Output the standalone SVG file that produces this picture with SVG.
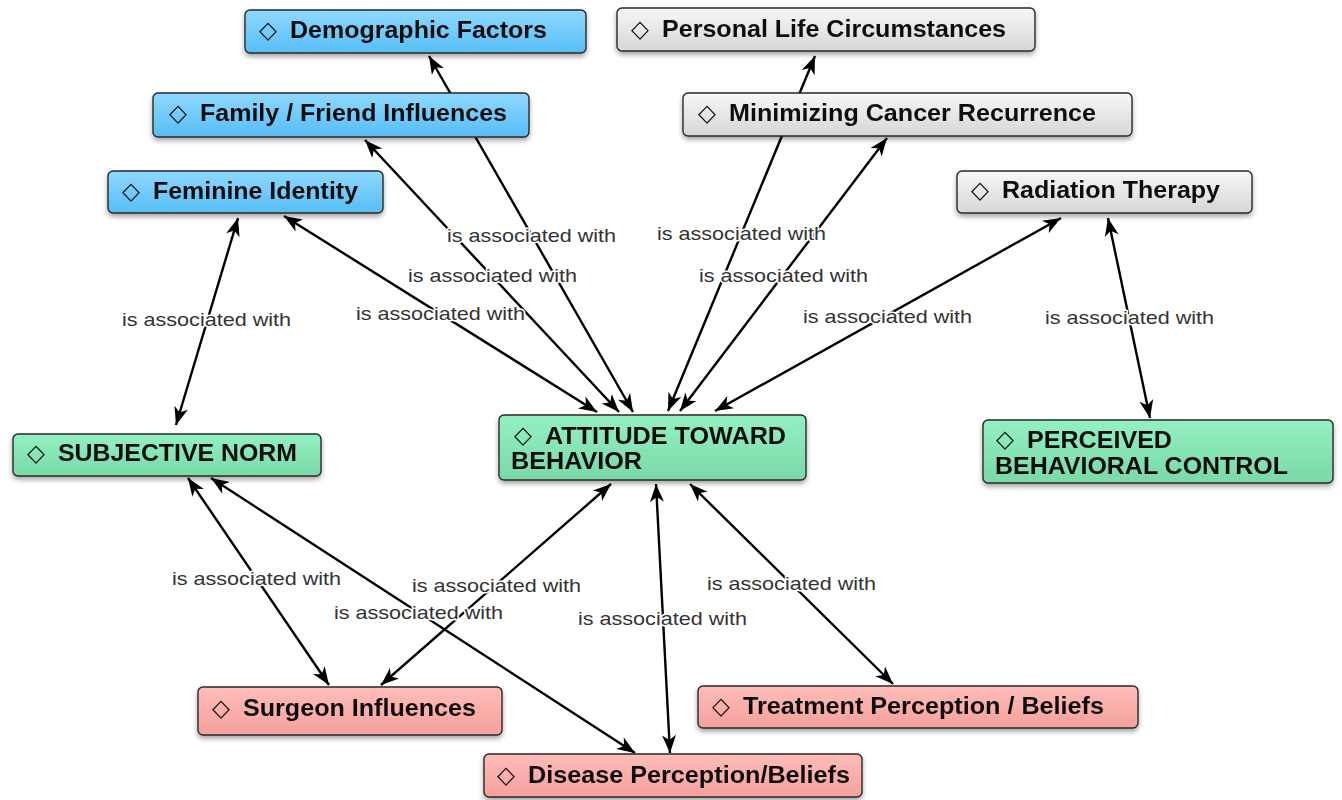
<svg xmlns="http://www.w3.org/2000/svg" width="1342" height="800" viewBox="0 0 1342 800">
<style>
.n{stroke:#2a2a2a;stroke-width:1.4}
.t{font-family:"Liberation Sans",Arial,"DejaVu Sans",sans-serif;font-weight:bold;font-size:23px;fill:#111}
.d{font-family:"DejaVu Sans",sans-serif;font-size:24px;fill:#111}
.e{stroke:#000;stroke-width:2.4;fill:none;marker-start:url(#ah);marker-end:url(#ah)}
.l{font-family:"Liberation Sans",Arial,sans-serif;font-size:19px;fill:#333;stroke:#fff;stroke-width:3;paint-order:stroke;stroke-linejoin:round}
</style>
<defs>
<linearGradient id="gb" x1="0" y1="0" x2="0" y2="1"><stop offset="0" stop-color="#8fd8ff"/><stop offset="1" stop-color="#57bdf5"/></linearGradient>
<linearGradient id="gg" x1="0" y1="0" x2="0" y2="1"><stop offset="0" stop-color="#f7f7f7"/><stop offset="1" stop-color="#d6d6d6"/></linearGradient>
<linearGradient id="gr" x1="0" y1="0" x2="0" y2="1"><stop offset="0" stop-color="#93f0c2"/><stop offset="1" stop-color="#7ad9a8"/></linearGradient>
<linearGradient id="gp" x1="0" y1="0" x2="0" y2="1"><stop offset="0" stop-color="#ffbdb9"/><stop offset="1" stop-color="#f5a09c"/></linearGradient>
<filter id="sh" x="-10%" y="-20%" width="120%" height="160%"><feDropShadow dx="0" dy="3" stdDeviation="2.5" flood-color="#000" flood-opacity="0.35"/></filter>
<marker id="ah" viewBox="-19 -8 21 16" refX="0" refY="0" markerWidth="21" markerHeight="16" markerUnits="userSpaceOnUse" orient="auto-start-reverse"><path d="M0,0 L-18,-7 L-13,0 L-18,7 Z" fill="#000"/></marker>
</defs>
<g id="connectors">
<line class="e" x1="633" y1="412" x2="429" y2="56"/>
<line class="e" x1="619" y1="412" x2="365" y2="140"/>
<line class="e" x1="597" y1="412" x2="284" y2="216"/>
<line class="e" x1="238" y1="218" x2="176" y2="425"/>
<line class="e" x1="668" y1="411" x2="815" y2="56"/>
<line class="e" x1="680" y1="411" x2="887" y2="138"/>
<line class="e" x1="715" y1="411" x2="1061" y2="218"/>
<line class="e" x1="1108" y1="218" x2="1150" y2="418"/>
<line class="e" x1="188" y1="478" x2="329" y2="685"/>
<line class="e" x1="211" y1="478" x2="635" y2="753"/>
<line class="e" x1="611" y1="484" x2="381" y2="685"/>
<line class="e" x1="656" y1="484" x2="670" y2="753"/>
<line class="e" x1="690" y1="484" x2="893" y2="684"/>
<text class="l" x="447" y="242" textLength="169" lengthAdjust="spacingAndGlyphs">is associated with</text>
<text class="l" x="408" y="282" textLength="169" lengthAdjust="spacingAndGlyphs">is associated with</text>
<text class="l" x="356" y="320" textLength="169" lengthAdjust="spacingAndGlyphs">is associated with</text>
<text class="l" x="122" y="326" textLength="169" lengthAdjust="spacingAndGlyphs">is associated with</text>
<text class="l" x="657" y="240" textLength="169" lengthAdjust="spacingAndGlyphs">is associated with</text>
<text class="l" x="699" y="282" textLength="169" lengthAdjust="spacingAndGlyphs">is associated with</text>
<text class="l" x="803" y="323" textLength="169" lengthAdjust="spacingAndGlyphs">is associated with</text>
<text class="l" x="1045" y="324" textLength="169" lengthAdjust="spacingAndGlyphs">is associated with</text>
<text class="l" x="172" y="585" textLength="169" lengthAdjust="spacingAndGlyphs">is associated with</text>
<text class="l" x="412" y="592" textLength="169" lengthAdjust="spacingAndGlyphs">is associated with</text>
<text class="l" x="334" y="619" textLength="169" lengthAdjust="spacingAndGlyphs">is associated with</text>
<text class="l" x="578" y="625" textLength="169" lengthAdjust="spacingAndGlyphs">is associated with</text>
<text class="l" x="707" y="590" textLength="169" lengthAdjust="spacingAndGlyphs">is associated with</text>
</g>
<g id="demographic" filter="url(#sh)"><rect class="n" x="245" y="10" width="341" height="43" rx="5" fill="url(#gb)"/><text class="d" x="259" y="38" textLength="18" lengthAdjust="spacingAndGlyphs">◇</text><text class="t" x="290" y="38" textLength="257" lengthAdjust="spacingAndGlyphs">Demographic Factors</text></g>
<g id="family" filter="url(#sh)"><rect class="n" x="153" y="93" width="376" height="44" rx="5" fill="url(#gb)"/><text class="d" x="169" y="121" textLength="18" lengthAdjust="spacingAndGlyphs">◇</text><text class="t" x="200" y="121" textLength="307" lengthAdjust="spacingAndGlyphs">Family / Friend Influences</text></g>
<g id="feminine" filter="url(#sh)"><rect class="n" x="108" y="171" width="275" height="42" rx="5" fill="url(#gb)"/><text class="d" x="122" y="199" textLength="18" lengthAdjust="spacingAndGlyphs">◇</text><text class="t" x="153" y="199" textLength="205" lengthAdjust="spacingAndGlyphs">Feminine Identity</text></g>
<g id="personal" filter="url(#sh)"><rect class="n" x="617" y="8" width="418" height="43" rx="5" fill="url(#gg)"/><text class="d" x="631" y="37" textLength="18" lengthAdjust="spacingAndGlyphs">◇</text><text class="t" x="662" y="37" textLength="344" lengthAdjust="spacingAndGlyphs">Personal Life Circumstances</text></g>
<g id="minimizing" filter="url(#sh)"><rect class="n" x="683" y="93" width="449" height="43" rx="5" fill="url(#gg)"/><text class="d" x="698" y="121" textLength="18" lengthAdjust="spacingAndGlyphs">◇</text><text class="t" x="729" y="121" textLength="367" lengthAdjust="spacingAndGlyphs">Minimizing Cancer Recurrence</text></g>
<g id="radiation" filter="url(#sh)"><rect class="n" x="957" y="171" width="295" height="42" rx="5" fill="url(#gg)"/><text class="d" x="971" y="198" textLength="18" lengthAdjust="spacingAndGlyphs">◇</text><text class="t" x="1002" y="198" textLength="218" lengthAdjust="spacingAndGlyphs">Radiation Therapy</text></g>
<g id="subjective" filter="url(#sh)"><rect class="n" x="13" y="434" width="308" height="42" rx="5" fill="url(#gr)"/><text class="d" x="27" y="461" textLength="18" lengthAdjust="spacingAndGlyphs">◇</text><text class="t" x="58" y="461" textLength="239" lengthAdjust="spacingAndGlyphs">SUBJECTIVE NORM</text></g>
<g id="attitude" filter="url(#sh)"><rect class="n" x="499" y="415" width="307" height="65" rx="5" fill="url(#gr)"/><text class="d" x="514" y="443" textLength="18" lengthAdjust="spacingAndGlyphs">◇</text><text class="t" x="545" y="444" textLength="241" lengthAdjust="spacingAndGlyphs">ATTITUDE TOWARD</text><text class="t" x="511" y="469" textLength="131" lengthAdjust="spacingAndGlyphs">BEHAVIOR</text></g>
<g id="perceived" filter="url(#sh)"><rect class="n" x="983" y="420" width="350" height="63" rx="5" fill="url(#gr)"/><text class="d" x="996" y="447" textLength="18" lengthAdjust="spacingAndGlyphs">◇</text><text class="t" x="1027" y="448" textLength="145" lengthAdjust="spacingAndGlyphs">PERCEIVED</text><text class="t" x="995" y="474" textLength="293" lengthAdjust="spacingAndGlyphs">BEHAVIORAL CONTROL</text></g>
<g id="surgeon" filter="url(#sh)"><rect class="n" x="198" y="687" width="304" height="48" rx="5" fill="url(#gp)"/><text class="d" x="212" y="716" textLength="18" lengthAdjust="spacingAndGlyphs">◇</text><text class="t" x="243" y="716" textLength="233" lengthAdjust="spacingAndGlyphs">Surgeon Influences</text></g>
<g id="treatment" filter="url(#sh)"><rect class="n" x="698" y="686" width="440" height="42" rx="5" fill="url(#gp)"/><text class="d" x="712" y="714" textLength="18" lengthAdjust="spacingAndGlyphs">◇</text><text class="t" x="743" y="714" textLength="361" lengthAdjust="spacingAndGlyphs">Treatment Perception / Beliefs</text></g>
<g id="disease" filter="url(#sh)"><rect class="n" x="484" y="754" width="378" height="43" rx="5" fill="url(#gp)"/><text class="d" x="497" y="783" textLength="18" lengthAdjust="spacingAndGlyphs">◇</text><text class="t" x="528" y="783" textLength="322" lengthAdjust="spacingAndGlyphs">Disease Perception/Beliefs</text></g>
</svg>
